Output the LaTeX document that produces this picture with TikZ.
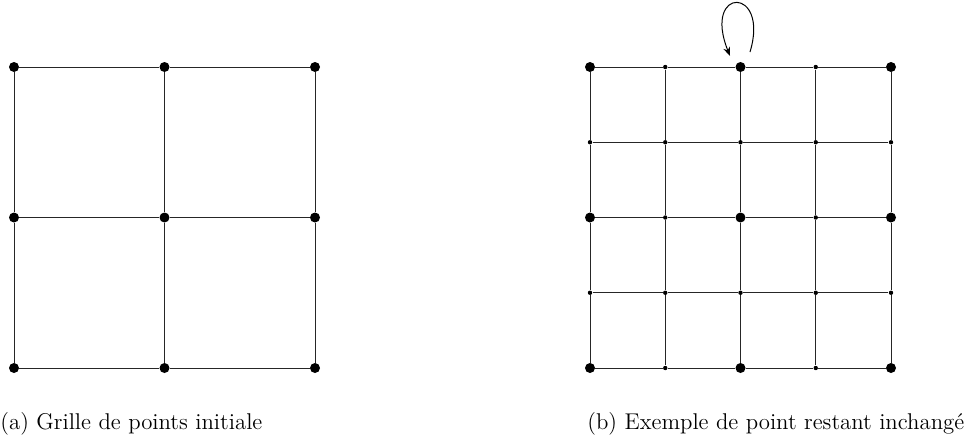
\documentclass[tikz,border=0pt]{standalone}
\usetikzlibrary{arrows.meta}
\tikzset{
  big/.style={circle,fill=black,inner sep=0pt,minimum size=5pt},
  small/.style={circle,fill=black,inner sep=0pt,minimum size=2.2pt},
  gridline/.style={line width=0.5pt,draw=black!85},
  captext/.style={anchor=base west,inner sep=0pt,font=\fontsize{11.4}{13.5}\selectfont}
}
\begin{document}
\begin{tikzpicture}[x=0.5pt,y=-0.5pt]
\useasboundingbox (0,0) rectangle (970,446);
% left grid
\foreach \i in {0,1,2}{\foreach \j in {0,1,2}{
  \node[big] (a\i\j) at ({14+150.5*\i},{67+150.5*\j}) {};}}
\foreach \i in {0,1,2}{
  \draw[gridline] (a\i0) -- (a\i1) -- (a\i2);
  \draw[gridline] (a0\i) -- (a1\i) -- (a2\i);}
% right grid
\foreach \i in {0,...,4}{\foreach \j in {0,...,4}{
  \pgfmathtruncatemacro{\ev}{(mod(\i,2)==0 && mod(\j,2)==0) ? 1 : 0}
  \ifnum\ev=1
    \node[big] (b\i\j) at ({590+75.25*\i},{67+75.25*\j}) {};
  \else
    \node[small] (b\i\j) at ({590+75.25*\i},{67+75.25*\j}) {};
  \fi}}
\foreach \i in {0,...,4}{
  \draw[gridline] (b\i0) -- (b\i1) -- (b\i2) -- (b\i3) -- (b\i4);
  \draw[gridline] (b0\i) -- (b1\i) -- (b2\i) -- (b3\i) -- (b4\i);}
% loop
\coordinate (ls) at (750,52);
\coordinate (le) at (730,56);
\draw[line width=0.5pt,-{Stealth[length=4.5pt,width=3.5pt]}] (ls) .. controls (770,-14) and (702,-14) .. (le);
% captions
\node[captext] (ca) at (0,429) {(a) Grille de points initiale};
\node[captext] (cb) at (587,429) {(b) Exemple de point restant inchangé};
\end{tikzpicture}
\end{document}
